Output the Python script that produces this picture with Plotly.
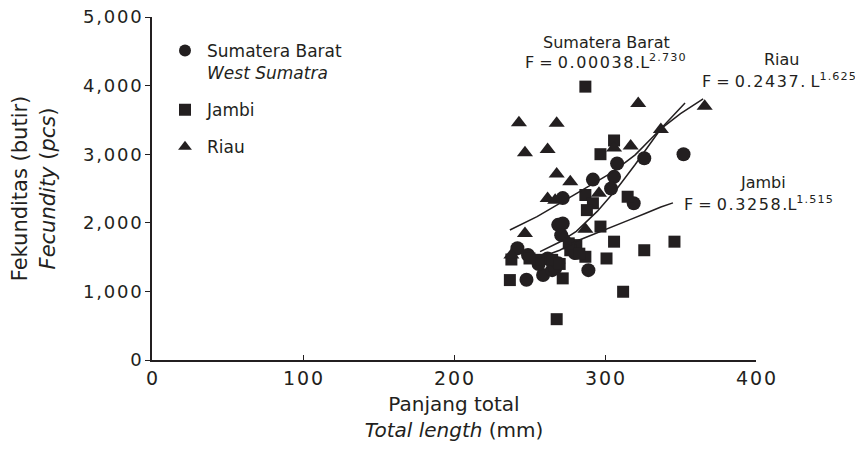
import re
import plotly.graph_objects as go

# ---- data ----
sb_len = [242, 248, 249, 259, 265, 267, 269, 289, 280, 269, 272, 271, 272, 292, 308, 306, 304, 326, 352, 319, 256, 262]
sb_fec = [1630, 1170, 1530, 1240, 1310, 1335, 1410, 1310, 1560, 1970, 1990, 1820, 2360, 2630, 2865, 2670, 2500, 2940, 3000, 2285, 1400, 1480]

jb_len = [287, 306, 297, 287, 292, 288, 315, 297, 306, 326, 346, 301, 312, 268, 237, 272, 238, 287, 281, 277, 256, 265, 250, 276, 283, 270]
jb_fec = [3985, 3200, 3000, 2405, 2285, 2185, 2380, 1945, 1725, 1600, 1725, 1480, 995, 595, 1165, 1190, 1465, 1505, 1675, 1600, 1460, 1460, 1480, 1700, 1550, 1400]

ri_len = [243, 268, 247, 262, 322, 366, 337, 306, 317, 268, 277, 262, 267, 296, 247, 287, 238, 273]
ri_fec = [3460, 3450, 3020, 3070, 3740, 3700, 3360, 3090, 3120, 2710, 2600, 2355, 2330, 2430, 1845, 1905, 1530, 1800]

# fitted curves as drawn in the reference
ri_fit_len = [237, 255, 272, 290, 305, 320, 337, 350, 365]
ri_fit_fec = [1895, 2090, 2310, 2540, 2740, 2990, 3370, 3590, 3805]
sb_fit_len = [257, 270, 281, 295, 308, 320, 337, 353]
sb_fit_fec = [1580, 1720, 1875, 2170, 2500, 2850, 3370, 3746]
jb_fit_len = [255, 270, 283, 295, 305, 317, 327, 337, 345]
jb_fit_fec = [1480, 1600, 1750, 1860, 1945, 2050, 2140, 2230, 2290]

x_ticks = [0, 100, 200, 300, 400]
x_tick_labels = ["0", "100", "200", "300", "400"]
y_ticks = [0, 1000, 2000, 3000, 4000, 5000]
y_tick_labels = ["0", "1,000", "2,000", "3,000", "4,000", "5,000"]

INK = "#231f20"
FONT = "DejaVu Sans"
# the page adds an 8 px body margin, so the figure is shrunk by that amount
W, H = 855, 454
L, R, T, B = 144, 107, 9, 102
PW, PH = W - L - R, H - T - B
PAGE_L, PAGE_T = L + 8, T + 8
HS = "\u200a"  # hair space to mimic the tracked digits of the reference


def spaced(s):
    return HS.join(list(s))


def spaced_digits(s):
    return re.sub(r"[0-9.]{2,}", lambda m: spaced(m.group(0)), s)


def px_to_paper(px, py):
    return (px - PAGE_L) / PW, 1 - (py - PAGE_T) / PH


fig = go.Figure()
fig.add_trace(go.Scatter(x=sb_len, y=sb_fec, mode="markers", name="Sumatera Barat<br><i>West Sumatra</i>",
                         legendgroup="sb", marker=dict(symbol="circle", size=14, color=INK)))
fig.add_trace(go.Scatter(x=jb_len, y=jb_fec, mode="markers", name="Jambi",
                         legendgroup="jb", marker=dict(symbol="square", size=12, color=INK)))
fig.add_trace(go.Scatter(x=ri_len, y=ri_fec, mode="markers", name="Riau",
                         legendgroup="ri", marker=dict(symbol="triangle-up", size=14, color=INK)))
for xs, ys in [(ri_fit_len, ri_fit_fec), (sb_fit_len, sb_fit_fec), (jb_fit_len, jb_fit_fec)]:
    fig.add_trace(go.Scatter(x=xs, y=ys, mode="lines", showlegend=False,
                             line=dict(color=INK, width=1.5)))

ann_font = dict(family=FONT, size=16, color=INK)
annotations = [
    (606, 42, "Sumatera Barat"),
    (605, 62, "F = 0.00038.L<sup>2.730</sup>"),
    (782, 59, "Riau"),
    (779, 80, "F = 0.2437. L<sup>1.625</sup>"),
    (763, 182, "Jambi"),
    (758, 203, "F = 0.3258.L<sup>1.515</sup>"),
]
for px, py, text in annotations:
    ax, ay = px_to_paper(px, py)
    fig.add_annotation(x=ax, y=ay, xref="paper", yref="paper",
                       text=spaced_digits(text), showarrow=False, font=ann_font,
                       xanchor="center", yanchor="middle")

lx, ly = px_to_paper(163, 33)
fig.update_layout(
    width=W, height=H,
    margin=dict(l=L, r=R, t=T, b=B, autoexpand=False),
    paper_bgcolor="white", plot_bgcolor="white",
    font=dict(family=FONT, size=16, color=INK),
    showlegend=True,
    legend=dict(x=lx, y=ly, xanchor="left", yanchor="top",
                font=dict(family=FONT, size=17, color=INK), bgcolor="rgba(0,0,0,0)",
                tracegroupgap=12, itemsizing="constant", valign="top", itemwidth=34),
    xaxis=dict(range=[0, 400], tickvals=x_ticks, ticktext=[spaced(t) for t in x_tick_labels],
               showline=True, linecolor=INK, linewidth=1.5, automargin=False,
               ticklabeloverflow="allow",
               ticks="inside", ticklen=5, tickcolor=INK, showgrid=False, zeroline=False,
               tickfont=dict(family=FONT, size=19, color=INK),
               title=dict(text="Panjang total<br><i>Total length</i> (mm)",
                          font=dict(family=FONT, size=20, color=INK), standoff=9)),
    yaxis=dict(range=[0, 5000], tickvals=y_ticks, ticktext=[spaced(t) for t in y_tick_labels],
               showline=True, linecolor=INK, automargin=False,
               ticklabeloverflow="allow",
               linewidth=1.5, ticks="outside", ticklen=5, tickcolor=INK, showgrid=False, zeroline=False,
               tickfont=dict(family=FONT, size=18, color=INK),
               title=dict(text="Fekunditas (butir)<br><i>Fecundity</i> (<i>pcs</i>)",
                          font=dict(family=FONT, size=21, color=INK), standoff=22)),
)

fig.write_html("out.html")
